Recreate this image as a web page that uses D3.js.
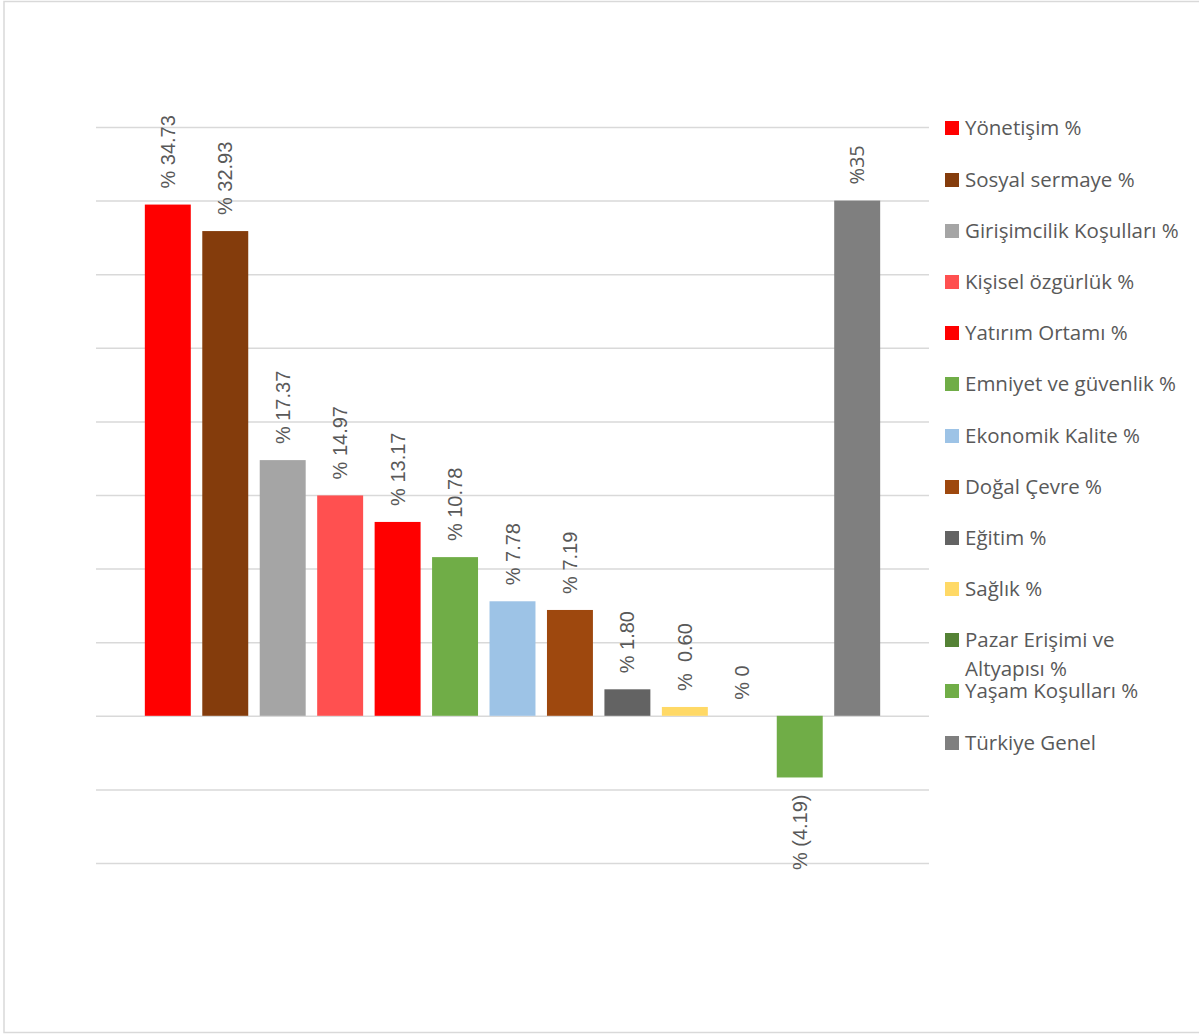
<!DOCTYPE html>
<html>
<head>
<meta charset="utf-8">
<script src="https://cdn.jsdelivr.net/npm/d3@7"></script>
<style>
  body { margin: 0; background: #fff; }
  text { fill: #595959; }
</style>
</head>
<body>
<script>
var categories = ["Yönetişim %", "Sosyal sermaye %", "Girişimcilik Koşulları %", "Kişisel özgürlük %",
	"Yatırım Ortamı %", "Emniyet ve güvenlik %", "Ekonomik Kalite %", "Doğal Çevre %", "Eğitim %",
	"Sağlık %", "Pazar Erişimi ve Altyapısı %", "Yaşam Koşulları %", "Türkiye Genel"];
var values = [34.73, 32.93, 17.37, 14.97, 13.17, 10.78, 7.78, 7.19, 1.80, 0.60, 0, -4.19, 35];
var valueLabels = ["% 34.73", "% 32.93", "% 17.37", "% 14.97", "% 13.17", "% 10.78", "% 7.78", "% 7.19",
	"% 1.80", "%  0.60", "% 0", "% (4.19)", "%35"];
var colors = ["#ff0000", "#843c0c", "#a5a5a5", "#ff5050", "#ff0000", "#70ad47", "#9dc3e6", "#9e480e",
	"#636363", "#ffd966", "#548235", "#70ad47", "#7f7f7f"];
var yTicks = [-10, -5, 0, 5, 10, 15, 20, 25, 30, 35, 40];

var w = 1199;
var h = 1034;

var svg = d3.select("body")
			.append("svg")
			.attr("width", w)
			.attr("height", h);

// chart border
svg.append("rect")
	.attr("x", 4)
	.attr("y", 1.5)
	.attr("width", w)
	.attr("height", 1031)
	.attr("fill", "none")
	.attr("stroke", "#d9d9d9")
	.attr("stroke-width", 1.5);

var xScale = d3.scaleBand()
				.domain(categories)
				.range([96, 929])
				.paddingInner(0.2)
				.paddingOuter(0.85);

var yScale = d3.scaleLinear()
				.domain([-10, 40])
				.range([863, 127]);

// gridlines
var yAxis = d3.axisLeft(yScale).tickValues(yTicks).tickSize(-(929 - 96)).tickFormat("");
var grid = svg.append("g")
	.attr("transform", "translate(96,0)")
	.call(yAxis);
grid.select(".domain").remove();
grid.selectAll("line").attr("stroke", "#d9d9d9").attr("stroke-width", 1.5);

svg.selectAll("rect.bar")
	.data(values)
	.enter()
	.append("rect")
	.attr("class", "bar")
	.attr("x", function(d, i){ return xScale(categories[i]); })
	.attr("width", xScale.bandwidth())
	.attr("y", function(d){ return yScale(Math.max(0, d)); })
	.attr("height", function(d){ return Math.abs(yScale(d) - yScale(0)); })
	.attr("fill", function(d, i){ return colors[i]; });

// value labels, rotated
svg.selectAll("text.lbl")
	.data(values)
	.enter()
	.append("text")
	.attr("class", "lbl")
	.attr("transform", function(d, i){
		var cx = xScale(categories[i]) + xScale.bandwidth() / 2;
		var y = d < 0 ? yScale(d) + 17 : yScale(d) - 16;
		return "translate(" + (cx + 7) + "," + y + ") rotate(-90)";
	})
	.attr("text-anchor", function(d){ return d < 0 ? "end" : "start"; })
	.style("font-family", function(d, i){ return i == 12 ? "Open Sans" : "Liberation Sans, Arial"; })
	.style("font-size", "20px")
	.text(function(d, i){ return valueLabels[i]; })
	.attr("xml:space", "preserve");

// legend
var legendY = [128, 180, 231, 282, 333, 384, 436, 487, 538, 589, 640, 691, 743];
var legend = svg.selectAll("g.leg")
	.data(categories)
	.enter()
	.append("g")
	.attr("class", "leg")
	.attr("transform", function(d, i){ return "translate(945," + legendY[i] + ")"; });
legend.append("rect")
	.attr("x", 0)
	.attr("y", -7)
	.attr("width", 14)
	.attr("height", 14)
	.attr("fill", function(d, i){ return colors[i]; });
legend.append("text")
	.attr("x", 20)
	.attr("y", 7)
	.style("font-family", "Open Sans")
	.style("font-size", "20.5px")
	.each(function(d){
		var t = d3.select(this);
		if (d == "Pazar Erişimi ve Altyapısı %") {
			t.append("tspan").attr("x", 20).text("Pazar Erişimi ve");
			t.append("tspan").attr("x", 20).attr("dy", 29).text("Altyapısı %");
		} else {
			t.text(d);
		}
	});
</script>
</body>
</html>
